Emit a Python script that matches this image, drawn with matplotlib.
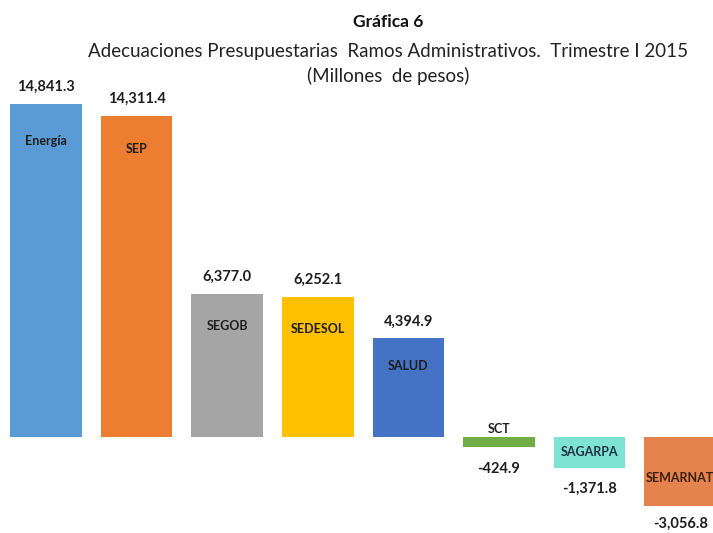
import matplotlib
matplotlib.use("Agg")
import matplotlib.pyplot as plt

categories = ["Energía", "SEP", "SEGOB", "SEDESOL", "SALUD", "SCT", "SAGARPA", "SEMARNAT"]
values = [14841.3, 14311.4, 6377.0, 6252.1, 4394.9, -424.9, -1371.8, -3056.8]
value_labels = ["14,841.3", "14,311.4", "6,377.0", "6,252.1", "4,394.9", "-424.9", "-1,371.8", "-3,056.8"]
colors = ["#5B9BD5", "#ED7D31", "#A5A5A5", "#FFC000", "#4472C4", "#70AD47", "#7FE3D3", "#E5834F"]

plt.rcParams['font.family'] = ['Lato', 'DejaVu Sans']

fig = plt.figure(figsize=(7.13, 5.33), dpi=100)
ax = fig.add_axes([0, 0, 1, 1])
x = list(range(len(categories)))
ax.bar(x, values, width=0.79, color=colors)
ax.set_xlim(-0.508, 7.362)
ax.set_ylim(-4278, 19474)
ax.axis('off')

txtc = "#1e1e1e"
neg_off = {5: -11, 6: -10, 7: -8}
for i, (v, lab, cat) in enumerate(zip(values, value_labels, categories)):
    if v >= 0:
        ax.annotate(lab, (i, v), xytext=(0, 7), textcoords='offset points',
                    ha='center', va='bottom', fontsize=10.5, fontweight='bold', color=txtc)
    else:
        ax.annotate(lab, (i, v), xytext=(0, neg_off[i]), textcoords='offset points',
                    ha='center', va='top', fontsize=10.5, fontweight='bold', color=txtc)

# category labels
inside_off = {0: -27, 1: -24, 2: -23, 3: -23, 4: -20}
for i, cat in enumerate(categories):
    v = values[i]
    if i in inside_off:
        ax.annotate(cat, (i, v), xytext=(0, inside_off[i]), textcoords='offset points',
                    ha='center', va='center', fontsize=9, fontweight='bold', color=txtc)
    elif i == 5:
        ax.annotate(cat, (i, 0), xytext=(0, 6), textcoords='offset points',
                    ha='center', va='center', fontsize=9, fontweight='bold', color=txtc)
    elif i == 6:
        ax.annotate(cat, (i, v / 2), xytext=(0, 0), textcoords='offset points',
                    ha='center', va='center', fontsize=9, fontweight='bold', color="#1f3340")
    else:
        ax.annotate(cat, (i, v / 2), xytext=(0, -4.5), textcoords='offset points',
                    ha='center', va='center', fontsize=9, fontweight='bold', color="#3a1f10")

fig.text(388 / 713, 1 - 22 / 533, "Gráfica 6", ha='center', va='center',
         fontsize=12.5, fontweight='bold', color="#111111")
fig.text(388 / 713, 1 - 52 / 533, "Adecuaciones Presupuestarias  Ramos Administrativos.  Trimestre I 2015",
         ha='center', va='center', fontsize=13.5, color="#222222")
fig.text(388 / 713, 1 - 76 / 533, "(Millones  de pesos)", ha='center', va='center',
         fontsize=13.5, color="#222222")

fig.savefig("out.png", dpi=100)
